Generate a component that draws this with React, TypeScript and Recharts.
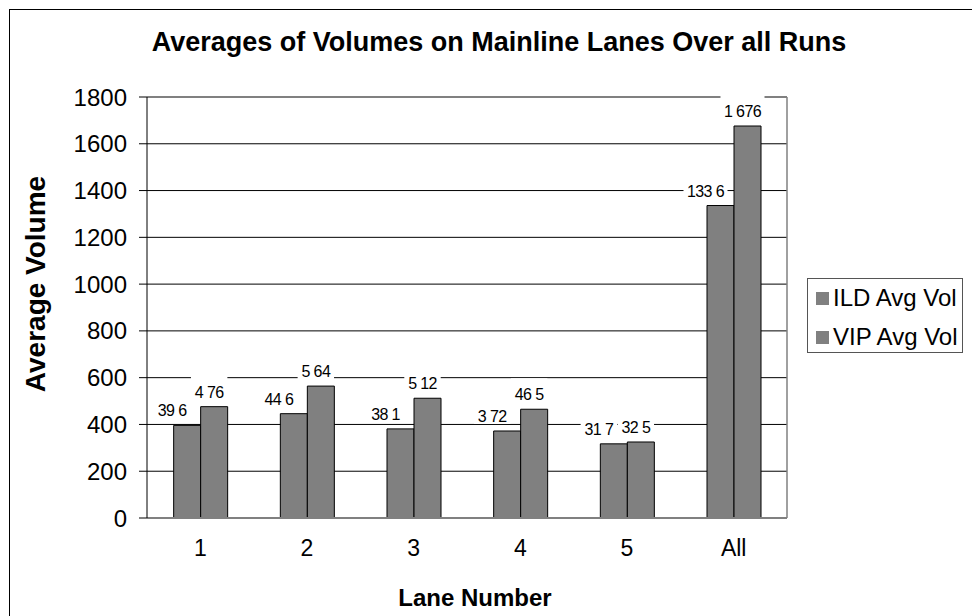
import React from 'react';
import { BarChart, Bar, XAxis, YAxis, CartesianGrid, Legend, LabelList, ReferenceLine, Label } from 'recharts';

const categories = ['1', '2', '3', '4', '5', 'All'];
const ildValues = [396, 446, 381, 372, 317, 1336];
const vipValues = [476, 564, 512, 465, 325, 1676];
const ildLabels = ['39 6', '44 6', '38 1', '3 72', '31 7', '133 6'];
const vipLabels = ['4 76', '5 64', '5 12', '46 5', '32 5', '1 676'];
const yTicks = [0, 200, 400, 600, 800, 1000, 1200, 1400, 1600, 1800];
const seriesNames = ['ILD Avg Vol', 'VIP Avg Vol'];

const data = categories.map((c, i) => ({
  lane: c,
  ild: ildValues[i],
  vip: vipValues[i],
  ildLabel: ildLabels[i],
  vipLabel: vipLabels[i],
}));

const FONT = '"Liberation Sans", Arial, sans-serif';
const BAR_FILL = '#808080';

const makeLabel = (shift: number) => (props: any) => {
  const { x, y, width, value } = props;
  const cx = Number(x) + Number(width) / 2 + shift;
  const base = Number(y) - 9;
  const w = String(value).length * 7.6 + 6;
  return (
    <g>
      <rect x={cx - w / 2} y={base - 22} width={w} height={24} fill="#fff" />
      <text x={cx} y={base} textAnchor="middle" fontSize={16} letterSpacing={-0.6} fontFamily={FONT} fill="#000">
        {value}
      </text>
    </g>
  );
};

const renderLegend = () => (
  <div
    style={{
      width: 154,
      height: 73,
      border: '1px solid #555',
      background: '#fff',
      fontFamily: FONT,
      fontSize: 24,
      position: 'relative',
    }}
  >
    {seriesNames.map((n, i) => (
      <div key={n} style={{ position: 'absolute', left: 8, top: 5 + i * 39, height: 28, display: 'flex', alignItems: 'center' }}>
        <span style={{ display: 'inline-block', width: 13, height: 13, background: BAR_FILL, marginRight: 4 }} />
        <span style={{ whiteSpace: 'nowrap' }}>{n}</span>
      </div>
    ))}
  </div>
);

export default function App() {
  return (
    <div style={{ position: 'absolute', left: 0, top: 0, width: 972, height: 616, background: '#fff', overflow: 'hidden' }}>
      <div
        style={{
          position: 'absolute',
          left: 9,
          top: 9,
          width: 1000,
          height: 700,
          borderLeft: '1px solid #000',
          borderTop: '1px solid #000',
        }}
      />
      <div
        style={{
          position: 'absolute',
          left: 0,
          top: 26,
          width: 998,
          textAlign: 'center',
          fontFamily: FONT,
          fontWeight: 'bold',
          fontSize: 27,
          lineHeight: '32px',
          color: '#000',
        }}
      >
        Averages of Volumes on Mainline Lanes Over all Runs
      </div>
      <BarChart
        width={972}
        height={616}
        data={data}
        margin={{ top: 97, right: 184, left: 0, bottom: 0 }}
        barCategoryGap="25%"
        barGap={0}
        style={{ position: 'absolute', left: 0, top: 0 }}
      >
        <CartesianGrid vertical={false} stroke="#000" strokeWidth={1} yAxisId="left" />
        <XAxis
          dataKey="lane"
          height={98}
          tickLine={false}
          tickSize={0}
          tickMargin={22}
          axisLine={{ stroke: '#808080', strokeWidth: 2 }}
          tick={{ fontSize: 23, fontFamily: FONT, fill: '#000' }}
          interval={0}
        >
          <Label
            content={(p: any) => {
              const vb = p.viewBox || {};
              return (
                <text
                  x={475}
                  y={Number(vb.y) + 88}
                  textAnchor="middle"
                  fontSize={24}
                  fontWeight="bold"
                  fontFamily={FONT}
                  fill="#000"
                >
                  Lane Number
                </text>
              );
            }}
          />
        </XAxis>
        <YAxis
          yAxisId="left"
          width={147}
          domain={[0, 1800]}
          ticks={yTicks}
          interval={0}
          tickSize={8}
          tickMargin={12}
          tickLine={{ stroke: '#000' }}
          axisLine={{ stroke: '#000' }}
          tick={{ fontSize: 24, fontFamily: FONT, fill: '#000' }}
        >
          <Label
            content={() => (
              <text
                x={35}
                y={284}
                transform="rotate(-90 35 284)"
                textAnchor="middle"
                dominantBaseline="central"
                fontSize={28}
                fontWeight="bold"
                fontFamily={FONT}
                fill="#000"
              >
                Average Volume
              </text>
            )}
          />
        </YAxis>
        <YAxis
          yAxisId="right"
          orientation="right"
          width={1}
          domain={[0, 1800]}
          tick={false}
          tickLine={false}
          axisLine={{ stroke: '#808080', strokeWidth: 1.5 }}
        />
        <ReferenceLine yAxisId="left" y={1800} stroke="#808080" strokeWidth={1.5} />
        <Legend
          layout="vertical"
          align="center"
          verticalAlign="middle"
          content={renderLegend}
          wrapperStyle={{ position: 'absolute', left: 807, top: 278, width: 156, height: 75 }}
        />
        <Bar yAxisId="left" dataKey="ild" name={seriesNames[0]} fill={BAR_FILL} stroke="#000" strokeWidth={1} isAnimationActive={false}>
          <LabelList dataKey="ildLabel" content={makeLabel(-15)} />
        </Bar>
        <Bar yAxisId="left" dataKey="vip" name={seriesNames[1]} fill={BAR_FILL} stroke="#000" strokeWidth={1} isAnimationActive={false}>
          <LabelList dataKey="vipLabel" content={makeLabel(-5)} />
        </Bar>
      </BarChart>
    </div>
  );
}
